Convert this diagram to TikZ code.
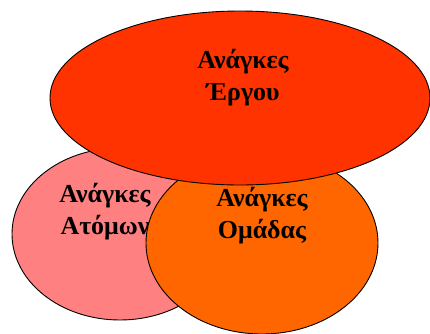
\documentclass[tikz,border=0pt]{standalone}
\usepackage{fontspec}
\setmainfont{Liberation Serif}
\usetikzlibrary{shapes.geometric, positioning}
\definecolor{needPink}{HTML}{FF8080}
\definecolor{needOrange}{HTML}{FF6600}
\definecolor{needRed}{HTML}{FF3300}

\begin{document}
\begin{tikzpicture}[x=1bp, y=-1bp,
  need/.style={ellipse, draw=black, line width=0.9bp, inner sep=0pt},
  label/.style={align=center, font=\fontsize{26}{32}\selectfont\bfseries, inner sep=0pt}
]
\useasboundingbox (0,0) rectangle (430,334);

\node (person) [need, fill=needPink, minimum width=216bp, minimum height=172bp] at (120,234) {};
\node (personText) [label] at (105,212) {Ανάγκες\\Ατόμων};

\node (team) [need, fill=needOrange, minimum width=232bp, minimum height=182bp] at (262,243) {};
\node (teamText) [label] at (262,216) {Ανάγκες\\Ομάδας};

\node (task) [need, fill=needRed, minimum width=380bp, minimum height=174bp] at (240,98) {};
\node (taskText) [label] at (243,78) {Ανάγκες\\Έργου};

\end{tikzpicture}
\end{document}
